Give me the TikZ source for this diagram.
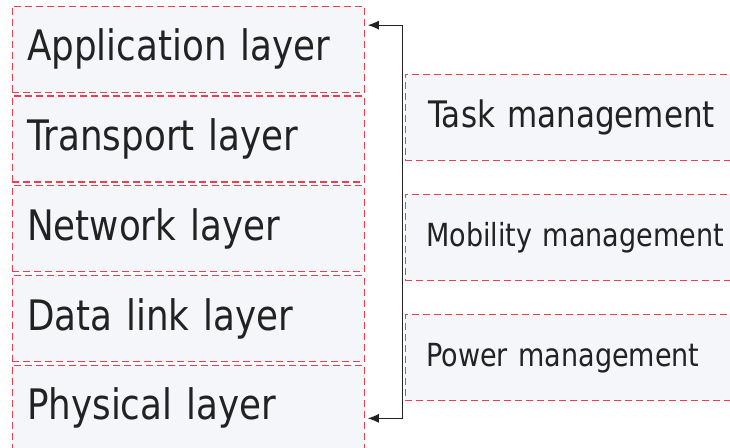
\documentclass[tikz,border=0pt]{standalone}
\usepackage{fontspec}
\setmainfont{DejaVu Sans}
\newfontfamily\narrowfont[FakeStretch=0.85]{DejaVu Sans}
\usetikzlibrary{positioning}
\usetikzlibrary{arrows,arrows.meta}

\definecolor{boxfill}{HTML}{F5F6FA}
\definecolor{boxline}{HTML}{EC3E4C}
\definecolor{ink}{HTML}{222222}

\begin{document}
\begin{tikzpicture}[x=1pt,y=-1pt,
	layer/.style={draw=boxline,line width=1.3pt,dash pattern=on 7pt off 4pt,fill=boxfill,
		text=ink,anchor=north west,minimum width=352pt,minimum height=86pt,
		inner xsep=15pt,text width=322pt,align=left,
		font=\narrowfont\fontsize{42}{50}\selectfont},
	mgmt/.style={layer,minimum width=360pt,inner xsep=21pt,text width=318pt,
		font=\narrowfont\fontsize{31.8}{40}\selectfont}]
			
			\useasboundingbox (0,0) rectangle (730,447);
			
			% protocol stack
			\node[layer] (app) at (11.5,5.5) {Application layer};
			\node[layer,below=2.5pt of app] (trans) {Transport layer};
			\node[layer,below=2.5pt of trans] (net) {Network layer};
			\node[layer,below=2.5pt of net] (link) {Data link layer};
			\node[layer,below=2.5pt of link] (phys) {Physical layer};
			
			% management planes
			\node[mgmt,font=\narrowfont\fontsize{36.5}{44}\selectfont,inner xsep=23pt,text width=314pt] (task) at (404.5,73.5) {Task management};
			\node[mgmt,below=33pt of task] (mob) {Mobility management};
			\node[mgmt,below=33pt of mob] (power) {Power management};
			
			\draw[{Latex[length=11pt,width=9pt]}-{Latex[length=11pt,width=9pt]},ink,line width=1pt]
				([xshift=3pt,yshift=24pt]app.east) -- ++(35,0)
				|- ([xshift=3pt,yshift=-10pt]phys.east);
		\end{tikzpicture}
\end{document}
